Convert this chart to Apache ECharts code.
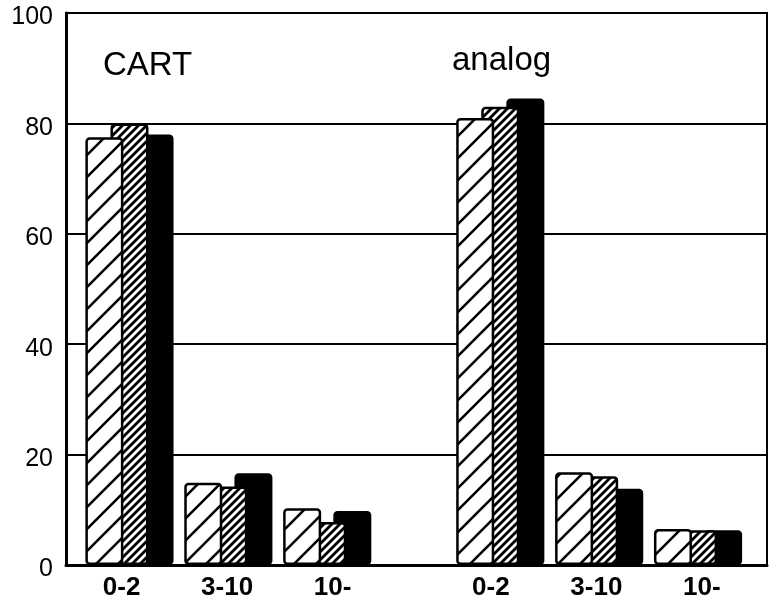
<!DOCTYPE html>
<html>
<head>
<meta charset="utf-8">
<script src="https://cdn.jsdelivr.net/npm/echarts@6/dist/echarts.min.js"></script>
<style>
html,body{margin:0;padding:0;background:#fff;}
#chart{width:779px;height:614px;}
</style>
</head>
<body>
<div id="chart"></div>
<script>
// ---- data ----
const categories = ['0-2', '3-10', '10-'];
const groups = ['CART', 'analog'];
const cartWide = [77.5, 14.9, 10.3];
const cartFine = [80, 14.2, 7.8];
const cartSolid = [78, 16.6, 9.8];
const analogWide = [81, 16.8, 6.5];
const analogFine = [83, 16.1, 6.3];
const analogSolid = [84.5, 13.8, 6.3];
const yTicks = [0, 20, 40, 60, 80, 100];

// ---- hatch patterns ----
function hatch(size, lw) {
  const c = document.createElement('canvas');
  c.width = size; c.height = size;
  const g = c.getContext('2d');
  g.fillStyle = '#fff';
  g.fillRect(0, 0, size, size);
  g.strokeStyle = '#000';
  g.lineWidth = lw;
  g.beginPath();
  for (let k = -1; k <= 1; k++) {
    g.moveTo(k * size - 1, size + 1);
    g.lineTo(k * size + size + 1, -1);
  }
  g.stroke();
  return c;
}
const widePattern = { image: hatch(22, 2.6), repeat: 'repeat' };
const finePattern = { image: hatch(8, 2.8), repeat: 'repeat' };

// ---- slot layouts: categories spaced by `step` slots, groups separated by `gap` slots ----
function buildSlots(step, gap) {
  const cats = [];
  const idx = [];
  groups.forEach(function (g, gi) {
    if (gi > 0) { for (let i = 1; i < gap; i++) cats.push(''); }
    categories.forEach(function (c, ci) {
      if (ci > 0) { for (let i = 1; i < step; i++) cats.push(''); }
      idx.push(cats.length);
      cats.push(c);
    });
  });
  return { cats: cats, idx: idx };
}
const barSlots = buildSlots(4, 7);    // layout for the bars
const labelSlots = buildSlots(2, 3);  // layout for the category labels

function spread(a, b) {
  const vals = a.concat(b);
  const out = barSlots.cats.map(function () { return '-'; });
  barSlots.idx.forEach(function (s, i) { out[s] = vals[i]; });
  return out;
}

const chart = echarts.init(document.getElementById('chart'), null, { renderer: 'canvas' });
const FONT = 'Liberation Sans, Arial, Helvetica, sans-serif';
const barBase = {
  type: 'bar',
  xAxisIndex: 1,
  yAxisIndex: 1,
  barWidth: 38,
  barGap: '-34%',
  clip: false,
  silent: true
};

chart.setOption({
  animation: false,
  backgroundColor: '#fff',
  grid: [
    { left: 66, right: 12, top: 13, bottom: 49, show: true, borderColor: '#000', borderWidth: 2, backgroundColor: 'transparent' },
    { left: 117.1, right: 68.6, top: 13, bottom: 49 },
    { left: 95.2, right: 50.8, top: 13, bottom: 49 }
  ],
  xAxis: [
    { gridIndex: 0, type: 'category', data: [''], axisLine: { show: true, lineStyle: { color: '#000', width: 3 } }, axisTick: { show: false }, axisLabel: { show: false }, splitLine: { show: false } },
    { gridIndex: 1, type: 'category', data: barSlots.cats, show: false },
    { gridIndex: 2, type: 'category', data: labelSlots.cats,
      axisLine: { show: false }, axisTick: { show: false }, splitLine: { show: false },
      axisLabel: { interval: 0, margin: 10, color: '#000', fontSize: 26, fontWeight: 'bold', fontFamily: FONT } }
  ],
  yAxis: [
    { gridIndex: 0, type: 'value', min: yTicks[0], max: yTicks[yTicks.length - 1], interval: yTicks[1] - yTicks[0],
      axisLine: { show: true, lineStyle: { color: '#000', width: 3 } },
      axisTick: { show: false },
      splitLine: { show: true, lineStyle: { color: '#000', width: 2 } },
      axisLabel: { color: '#000', margin: 13, formatter: '{a|{value}}',
        rich: { a: { fontSize: 25, fontFamily: FONT, color: '#000', padding: [9, 0, 0, 0] } } } },
    { gridIndex: 1, type: 'value', min: yTicks[0], max: yTicks[yTicks.length - 1], show: false },
    { gridIndex: 2, type: 'value', min: yTicks[0], max: yTicks[yTicks.length - 1], show: false }
  ],
  graphic: [
    { type: 'text', left: 103, top: 49, silent: true, style: { text: groups[0], fill: '#000', font: 'normal 33px ' + FONT } },
    { type: 'text', left: 452, top: 44, silent: true, style: { text: groups[1], fill: '#000', font: 'normal 33px ' + FONT } }
  ],
  series: [
    Object.assign({}, barBase, { name: 'wide hatch', z: 5, data: spread(cartWide, analogWide),
      itemStyle: { color: widePattern, borderColor: '#000', borderWidth: 2.5, borderRadius: 3 } }),
    Object.assign({}, barBase, { name: 'fine hatch', z: 4, data: spread(cartFine, analogFine),
      itemStyle: { color: finePattern, borderColor: '#000', borderWidth: 2.5, borderRadius: 3 } }),
    Object.assign({}, barBase, { name: 'solid', z: 3, data: spread(cartSolid, analogSolid),
      itemStyle: { color: '#000', borderColor: '#000', borderWidth: 2.5, borderRadius: 3 } })
  ]
});
</script>
</body>
</html>
